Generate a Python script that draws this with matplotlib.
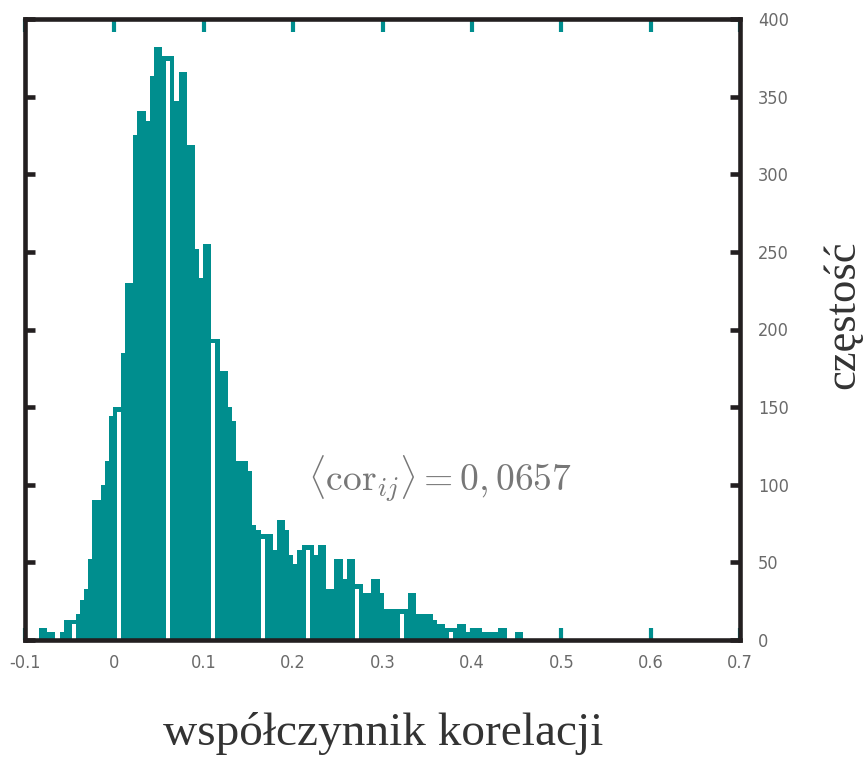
import matplotlib
matplotlib.use("Agg")
import matplotlib.pyplot as plt
import numpy as np

# ---- data ----
bin_start = -0.0843
bin_width = 0.00459
counts = [8, 8, 5, 5, 0, 5, 13, 13, 13, 17,
          26, 33, 52, 90, 90, 100, 115, 144, 150, 150,
          185, 230, 230, 325, 341, 341, 334, 363, 382, 382,
          376, 376, 376, 347, 366, 366, 319, 319, 252, 233,
          255, 255, 194, 194, 173, 173, 150, 141, 115, 115,
          115, 109, 74, 71, 68, 68, 68, 58, 77, 77,
          71, 55, 49, 58, 61, 61, 61, 55, 61, 61,
          33, 33, 52, 52, 39, 52, 52, 36, 36, 30,
          30, 39, 39, 30, 20, 20, 20, 20, 20, 20,
          30, 30, 17, 17, 17, 17, 13, 10, 10, 8,
          8, 8, 10, 10, 5, 8, 8, 8, 5, 5,
          5, 5, 8, 8, 0, 0, 5, 5]
hollow_bins = [8, 19, 31, 42, 54, 65, 77, 88, 100]
cap = 3.0

x_ticks = [-0.1, 0, 0.1, 0.2, 0.3, 0.4, 0.5, 0.6, 0.7]
x_ticklabels = ["-0.1", "0", "0.1", "0.2", "0.3", "0.4", "0.5", "0.6", "0.7"]
y_ticks = [0, 50, 100, 150, 200, 250, 300, 350, 400]
x_label = "współczynnik korelacji"
y_label = "częstość"
annotation = r"$\langle \mathrm{cor}_{ij}\rangle = 0,0657$"

teal = "#008e8e"
dark = "#231f20"
gray = "#6a6a6a"

plt.rcParams["mathtext.fontset"] = "cm"

fig = plt.figure(figsize=(8.65, 7.57), dpi=100)
ax = fig.add_axes([25 / 865, 117 / 757, 715 / 865, 621 / 757])

counts_arr = np.array(counts, dtype=float)
lefts = bin_start + bin_width * np.arange(len(counts_arr))
ax.bar(lefts, counts_arr, width=bin_width, align="edge", color=teal,
       edgecolor="none", linewidth=0, zorder=2)
hb = np.array(hollow_bins)
ax.bar(lefts[hb], np.clip(counts_arr[hb] - cap, 0, None), width=bin_width,
       align="edge", color="white", edgecolor="none", linewidth=0, zorder=3)

ax.set_xlim(-0.1, 0.7)
ax.set_ylim(0, 400)

for s in ax.spines.values():
    s.set_linewidth(3.3)
    s.set_color(dark)
    s.set_zorder(5)

ax.set_xticks(x_ticks)
ax.set_xticklabels(x_ticklabels)
ax.set_yticks(y_ticks)
ax.set_yticklabels([str(v) for v in y_ticks])

ax.tick_params(axis="x", which="both", direction="in", top=True, bottom=True,
               length=9, width=3, color=teal, pad=10, labelsize=13,
               labelcolor=gray)
ax.tick_params(axis="y", which="both", direction="in", left=True, right=True,
               labelleft=False, labelright=True, length=7, width=3.3,
               color=dark, pad=13, labelsize=13, labelcolor=gray)
for lab in ax.get_xticklabels() + ax.get_yticklabels():
    lab.set_family(["DejaVu Sans"])
    lab.set_stretch("condensed")
for lab in ax.get_yticklabels():
    lab.set_horizontalalignment("left")

ax.text(0.2166, 104, annotation, fontsize=27, color="#777777",
        ha="left", va="center", zorder=6)

fig.text(383 / 865, 1 - 745 / 757, x_label, ha="center", va="baseline",
         fontsize=34, color="#333333",
         family=["Liberation Serif", "DejaVu Serif"])
fig.text(843 / 865, 1 - 315 / 757, y_label, ha="center", va="center",
         rotation=90, fontsize=32, color="#333333",
         family=["Liberation Serif", "DejaVu Serif"])

fig.savefig("out.png", dpi=100)
